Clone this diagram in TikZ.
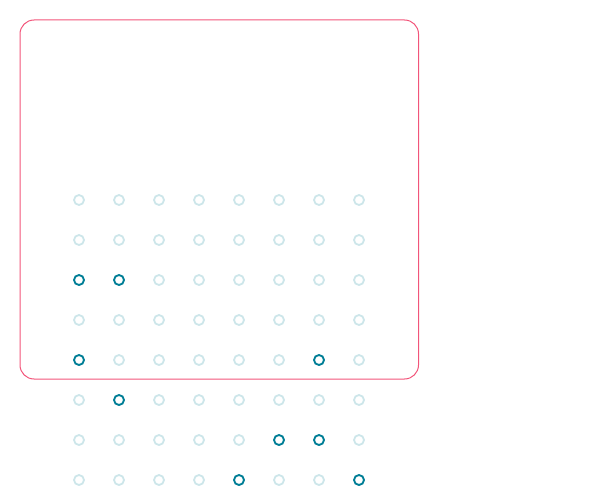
\documentclass[tikz,border=0pt]{standalone}
\usepackage{xcolor}
\usepackage{tikz}

\definecolor{framered}{HTML}{F2557A}
\definecolor{dotlight}{HTML}{CDE6EA}
\definecolor{dotdark}{HTML}{007E96}

\begin{document}
\begin{tikzpicture}[x=1pt, y=-1pt,
        dot/.style={circle, draw=dotlight, line width=1.8pt, minimum size=10pt, inner sep=0pt},
        hit/.style={dot, draw=dotdark}]
        \useasboundingbox (0,0) rectangle (600,500);
        \draw[framered, line width=1pt, rounded corners=14pt] (20,20) rectangle (418.5,379);

        \foreach \r in {1,...,8} {
            \foreach \c in {1,...,8} {
                \node[dot] (d\r\c) at ({39+40*\c},{160+40*\r}) {};
            }
        }

        \node[hit] at (d31) {};
        \node[hit] at (d32) {};
        \node[hit] at (d51) {};
        \node[hit] at (d57) {};
        \node[hit] at (d62) {};
        \node[hit] at (d76) {};
        \node[hit] at (d77) {};
        \node[hit] at (d85) {};
        \node[hit] at (d88) {};
    \end{tikzpicture}
\end{document}
